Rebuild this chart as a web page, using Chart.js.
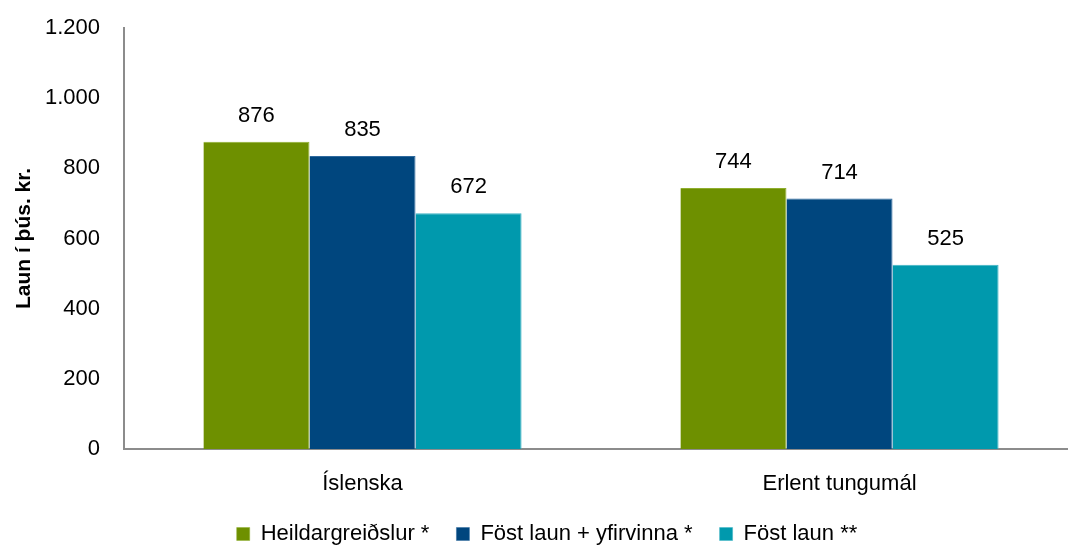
<!DOCTYPE html>
<html>
<head>
<meta charset="utf-8">
<script src="https://cdn.jsdelivr.net/npm/chart.js@4.4.0/dist/chart.umd.min.js"></script>
<style>
  html, body { margin: 0; padding: 0; background: #fff; overflow: hidden; }
  #wrap { width: 1080px; height: 555px; }
</style>
</head>
<body>
<div id="wrap"><canvas id="laun_chart"></canvas></div>
<script>
// data (thousand kr.)
var categories = ['Íslenska', 'Erlent tungumál'];
var seriesNames = ['Heildargreiðslur *', 'Föst laun + yfirvinna *', 'Föst laun **'];
var heildar = [876, 744];
var fastYfir = [835, 714];
var fastLaun = [672, 525];
var yTicks = [0, 200, 400, 600, 800, 1000, 1200];

var colors = ['#6E9000', '#00467E', '#0099AD'];
var borders = ['#8FAE2E', '#2F6A9E', '#3DB4C4'];
var fontFamily = "'Liberation Sans', Arial, sans-serif";

Chart.defaults.font.family = fontFamily;
Chart.defaults.color = '#000';

// values above bars
var valueLabels = {
    id: 'valueLabels',
    afterDatasetsDraw: function(chart) {
        var ctx = chart.ctx;
        ctx.save();
        ctx.font = '22px ' + fontFamily;
        ctx.fillStyle = '#000';
        ctx.textAlign = 'center';
        ctx.textBaseline = 'alphabetic';
        chart.data.datasets.forEach(function(ds, i) {
            var meta = chart.getDatasetMeta(i);
            meta.data.forEach(function(bar, j) {
                ctx.fillText(ds.data[j], bar.x, bar.y - 20);
            });
        });
        ctx.restore();
    }
};

var seriesData = [heildar, fastYfir, fastLaun];
var datasets = seriesData.map(function(d, i) {
    return {
        label: seriesNames[i],
        data: d,
        backgroundColor: colors[i],
        borderColor: borders[i],
        borderWidth: { top: 1, right: 1, left: 0, bottom: 0 },
        borderSkipped: 'bottom'
    };
});

var ctx = document.getElementById('laun_chart').getContext('2d');
var launChart = new Chart(ctx, {
    type: 'bar',
    data: { labels: categories, datasets: datasets },
    plugins: [valueLabels],
    options: {
        responsive: true,
        maintainAspectRatio: false,
        animation: false,
        layout: { padding: { top: 28, left: 16, right: 2, bottom: 0 } },
        datasets: {
            bar: { categoryPercentage: 0.667, barPercentage: 1.0 }
        },
        plugins: {
            legend: {
                position: 'bottom',
                labels: {
                    boxWidth: 13,
                    boxHeight: 13,
                    padding: 27,
                    font: { size: 22 }
                }
            },
            tooltip: { enabled: false }
        },
        scales: {
            x: {
                afterFit: function(axis) { axis.height = 47; },
                grid: { display: false, drawTicks: false },
                border: { color: '#8C8C8C', width: 2 },
                ticks: { font: { size: 22 }, padding: 22 }
            },
            y: {
                min: 0,
                max: 1200,
                afterFit: function(axis) {
                    axis.width = 108;
                    axis.paddingTop = 0;
                    axis.paddingBottom = 0;
                },
                afterBuildTicks: function(axis) {
                    axis.ticks = yTicks.map(function(v) { return { value: v }; });
                },
                grid: { display: false, drawTicks: false },
                border: { color: '#8C8C8C', width: 2 },
                ticks: {
                    font: { size: 22 },
                    padding: 24,
                    callback: function(v) { return v.toLocaleString('de-DE'); }
                },
                title: {
                    display: true,
                    text: 'Laun í þús. kr.',
                    font: { size: 21, weight: 'bold' },
                    padding: { top: -4, bottom: 0 }
                }
            }
        }
    }
});
</script>
</body>
</html>
